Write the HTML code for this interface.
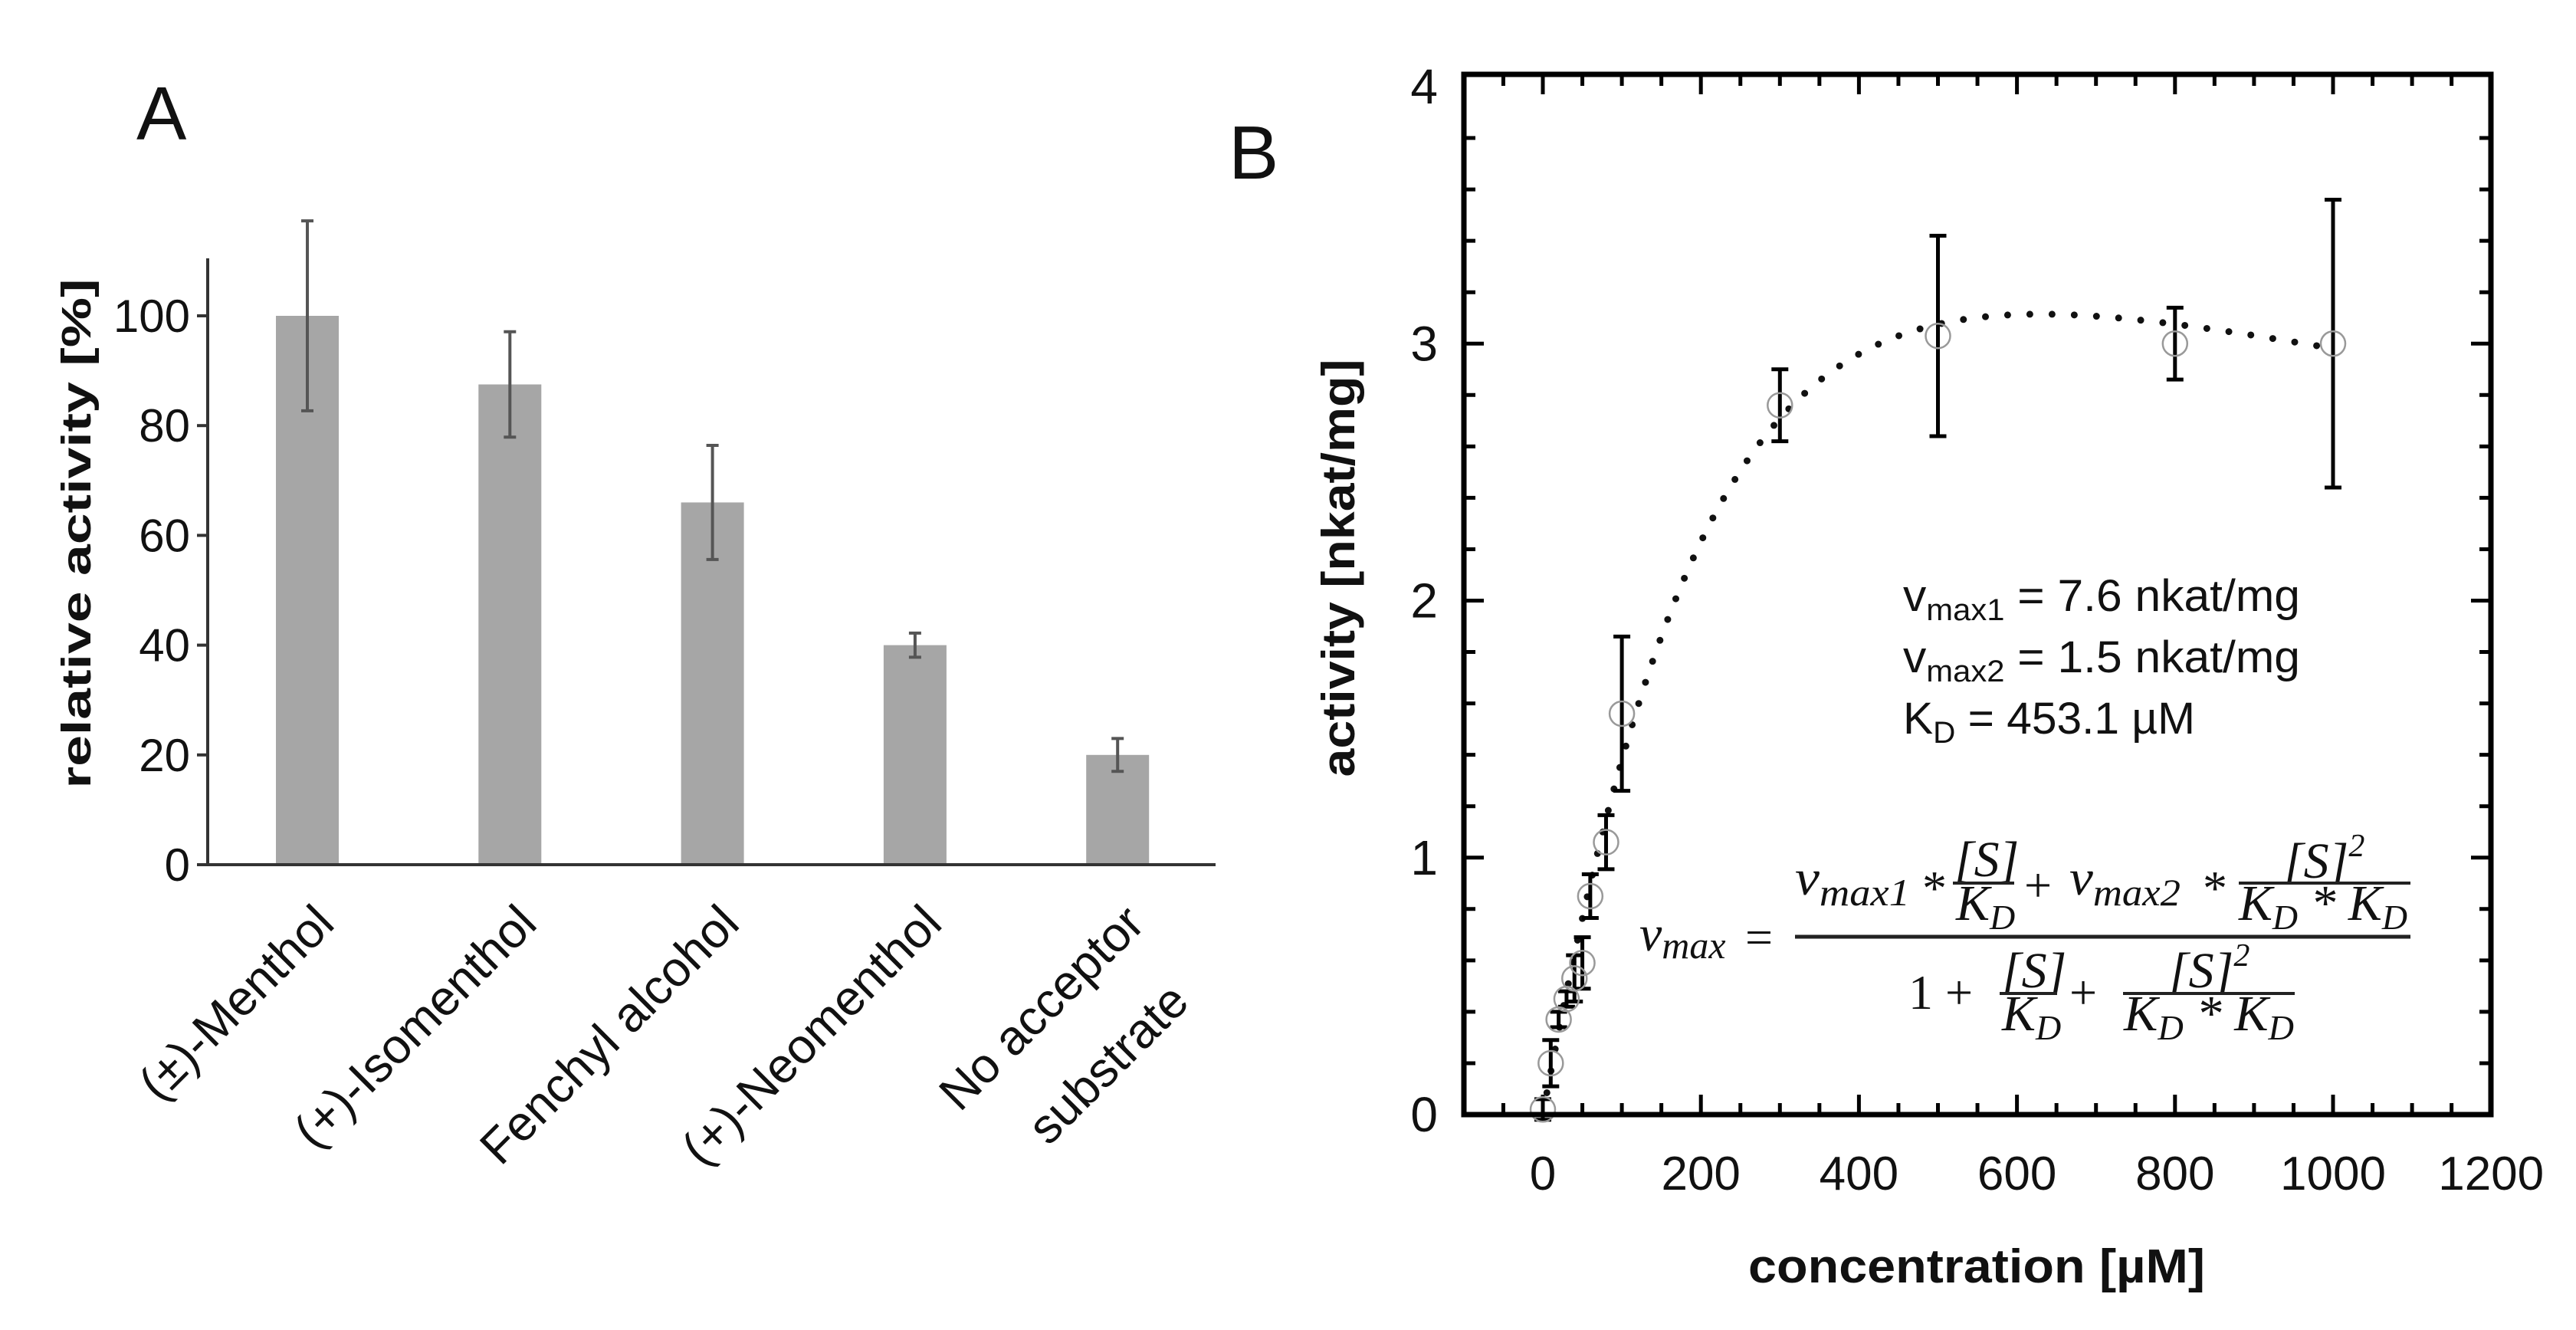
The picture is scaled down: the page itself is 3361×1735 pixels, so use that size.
<!DOCTYPE html>
<html><head><meta charset="utf-8"><style>
html,body{margin:0;padding:0;background:#fff}
svg{display:block}
text{font-family:"Liberation Sans",sans-serif}
.m{font-family:"Liberation Serif",serif;font-style:italic;font-size:66px;fill:#111}
.mu{font-family:"Liberation Serif",serif;font-style:normal;font-size:64px;fill:#111}
</style></head><body>
<svg id="fig" width="3361" height="1735" viewBox="0 0 3361 1735" xmlns="http://www.w3.org/2000/svg">
<g id="panelA">
  <text x="178" y="182" font-size="98" fill="#111">A</text>
  <text transform="translate(118,696) rotate(-90)" text-anchor="middle" font-size="54" font-weight="bold" fill="#111" textLength="665" lengthAdjust="spacingAndGlyphs">relative activity [%]</text>
  <g id="aBars"></g>
  <g id="aErr"></g>
  <line x1="271" y1="337" x2="271" y2="1128" stroke="#333" stroke-width="4"/>
  <line x1="257" y1="1128" x2="1586" y2="1128" stroke="#333" stroke-width="4"/>
  <g id="aTicks"></g>
  <g id="aCats"></g>
</g>
<g id="panelB">
  <text x="1603" y="233" font-size="98" fill="#111">B</text>
  <text transform="translate(1767,741) rotate(-90)" text-anchor="middle" font-size="60" font-weight="bold" fill="#111" textLength="545" lengthAdjust="spacingAndGlyphs">activity [nkat/mg]</text>
  <text x="2281" y="1673" font-size="62" font-weight="bold" fill="#111" textLength="596" lengthAdjust="spacingAndGlyphs">concentration [µM]</text>
  <g id="bTicks"></g>
  <path id="bCurve" fill="none" stroke="#111" stroke-width="9" stroke-linecap="round" stroke-dasharray="0 29"/>
  <g id="bErr"></g>
  <g id="bPts"></g>
  <rect x="1910" y="97" width="1340" height="1357" fill="none" stroke="#000" stroke-width="7"/>
  <g font-size="58" fill="#111">
    <text x="2483" y="797" textLength="518" lengthAdjust="spacingAndGlyphs">v<tspan font-size="40" dy="12">max1</tspan><tspan dy="-12"> = 7.6 nkat/mg</tspan></text>
    <text x="2483" y="877" textLength="518" lengthAdjust="spacingAndGlyphs">v<tspan font-size="40" dy="12">max2</tspan><tspan dy="-12"> = 1.5 nkat/mg</tspan></text>
    <text x="2483" y="957" textLength="381" lengthAdjust="spacingAndGlyphs">K<tspan font-size="40" dy="12">D</tspan><tspan dy="-12"> = 453.1 µM</tspan></text>
  </g>
  <g>
    <text class="m" x="2139" y="1240">v<tspan font-size="50" dy="10">max</tspan></text>
    <text class="mu" x="2277" y="1244">=</text>
    <line x1="2342" y1="1222" x2="3145" y2="1222" stroke="#222" stroke-width="5"/>
    <text class="m" x="2342" y="1167" textLength="150" lengthAdjust="spacingAndGlyphs">v<tspan font-size="50" dy="14">max1</tspan></text>
    <text class="mu" x="2508" y="1180">*</text>
    <text class="m" x="2550" y="1143">[S]</text>
    <line x1="2548" y1="1152" x2="2628" y2="1152" stroke="#222" stroke-width="4"/>
    <text class="m" x="2552" y="1200">K<tspan font-size="46" dy="12">D</tspan></text>
    <text class="mu" x="2641" y="1176">+</text>
    <text class="m" x="2700" y="1167" textLength="145" lengthAdjust="spacingAndGlyphs">v<tspan font-size="50" dy="14">max2</tspan></text>
    <text class="mu" x="2874" y="1180">*</text>
    <text class="m" x="2980" y="1145">[S]<tspan font-size="42" dy="-28">2</tspan></text>
    <line x1="2921" y1="1152" x2="3145" y2="1152" stroke="#222" stroke-width="4"/>
    <text class="m" x="2921" y="1200" textLength="220" lengthAdjust="spacingAndGlyphs">K<tspan font-size="46" dy="12">D</tspan><tspan dy="-12"> * K</tspan><tspan font-size="46" dy="12">D</tspan></text>
    <text class="mu" x="2490" y="1316">1 +</text>
    <text class="m" x="2612" y="1288">[S]</text>
    <line x1="2609" y1="1296" x2="2684" y2="1296" stroke="#222" stroke-width="4"/>
    <text class="m" x="2612" y="1344">K<tspan font-size="46" dy="12">D</tspan></text>
    <text class="mu" x="2700" y="1316">+</text>
    <text class="m" x="2830" y="1288">[S]<tspan font-size="42" dy="-28">2</tspan></text>
    <line x1="2770" y1="1296" x2="2994" y2="1296" stroke="#222" stroke-width="4"/>
    <text class="m" x="2771" y="1344" textLength="222" lengthAdjust="spacingAndGlyphs">K<tspan font-size="46" dy="12">D</tspan><tspan dy="-12"> * K</tspan><tspan font-size="46" dy="12">D</tspan></text>
  </g>
</g>
</svg>
<script>
const NS="http://www.w3.org/2000/svg";
// Panel A data
const aCategories=[["(±)-Menthol"],["(+)-Isomenthol"],["Fenchyl alcohol"],["(+)-Neomenthol"],["No acceptor","substrate"]];
const aValues=[100,87.5,66,40,20];
const aErrors=[17.3,9.6,10.4,2.2,3];
const aTickValues=[0,20,40,60,80,100];
// Panel B data
const bConc=[0,10,20,30,40,50,60,80,100,300,500,800,1000];
const bActivity=[0.02,0.2,0.37,0.45,0.53,0.59,0.85,1.06,1.56,2.76,3.03,3.0,3.0];
const bErrors=[0.04,0.09,0.03,0.03,0.09,0.1,0.085,0.105,0.3,0.14,0.39,0.14,0.56];
const bFitParams=[7.6,1.5,453.1];
const bXTickLabels=[0,200,400,600,800,1000,1200];
const bYTickLabels=[0,1,2,3,4];

function mk(tag,attrs,parent){const e=document.createElementNS(NS,tag);for(const k in attrs)e.setAttribute(k,attrs[k]);parent.appendChild(e);return e;}
const ay=v=>1128-v*7.16;
const ax=i=>401+i*264.3;
const aBars=document.getElementById('aBars'),aErr=document.getElementById('aErr'),aTicks=document.getElementById('aTicks'),aCats=document.getElementById('aCats');
aValues.forEach((v,i)=>{
  const r=mk('rect',{x:ax(i)-41,y:ay(v),width:82,height:ay(0)-ay(v),fill:'#a6a6a6'},aBars);
  
  
  const c=ax(i),t=ay(v+aErrors[i]),b=ay(v-aErrors[i]);
  const g=mk('path',{d:`M${c},${t}V${b}M${c-8},${t}H${c+8}M${c-8},${b}H${c+8}`,stroke:'#555',"stroke-width":4,fill:'none'},aErr);
  
  
});
aTickValues.forEach(v=>{
  const l=mk('line',{x1:257,x2:271,y1:ay(v),y2:ay(v),stroke:'#333','stroke-width':4},aTicks);
  
  
  const t=mk('text',{x:248,y:ay(v)+21,'text-anchor':'end','font-size':60,fill:'#111'},aTicks);
  
  
  t.textContent=v;
});
aCategories.forEach((lines,i)=>{
  lines.forEach((s,j)=>{
    const px=ax(i)+38+j*58, py=1208+j*102;
    const t=mk('text',{x:0,y:0,'text-anchor':'end','font-size':64,fill:'#111',transform:`translate(${px},${py}) rotate(-45)`},aCats);
    
    
    t.textContent=s;
  });
});
const bx=v=>2013+v*1.031;
const by=v=>1454-v*335.25;
const bT=document.getElementById('bTicks');
for(let v=-50;v<1200;v+=50){
  const major=v%200===0, L=major?26:15;
  const d=`M${bx(v)},1454V${1454-L}M${bx(v)},97V${97+L}`;
  const p=mk('path',{d,stroke:'#000','stroke-width':5,fill:'none'},bT);
  
  
}
for(let k=1;k<20;k++){
  const v=k*0.2, major=k%5===0, L=major?26:15;
  const p=mk('path',{d:`M1910,${by(v)}H${1910+L}M3250,${by(v)}H${3250-L}`,stroke:'#000','stroke-width':5,fill:'none'},bT);
  
  
}
bXTickLabels.forEach(v=>{
  const t=mk('text',{x:bx(v),y:1552,'text-anchor':'middle','font-size':62,fill:'#111'},bT);
  
  
  t.textContent=v;
});
bYTickLabels.forEach(v=>{
  const t=mk('text',{x:1876,y:by(v)+22,'text-anchor':'end','font-size':64,fill:'#111'},bT);
  
  
  t.textContent=v;
});
const [v1,v2,kd]=bFitParams;
let d='';
for(let S=0;S<=1000;S+=2){const s=S/kd;const v=(v1*s+v2*s*s)/(1+s+s*s);d+=(S?'L':'M')+bx(S).toFixed(1)+','+by(v).toFixed(1);}
document.getElementById('bCurve').setAttribute('d',d);
const bErr=document.getElementById('bErr'),bPts=document.getElementById('bPts');
bConc.forEach((c,i)=>{
  const x=bx(c),t=by(bActivity[i]+bErrors[i]),b=by(bActivity[i]-bErrors[i]);
  const e=mk('path',{d:`M${x},${t}V${b}M${x-11},${t}H${x+11}M${x-11},${b}H${x+11}`,stroke:'#000','stroke-width':5,fill:'none'},bErr);
  
  
  const p=mk('circle',{cx:x,cy:by(bActivity[i]),r:16,fill:'none',stroke:'#999','stroke-width':2.5},bPts);
  
  
});
</script>
</body></html>
